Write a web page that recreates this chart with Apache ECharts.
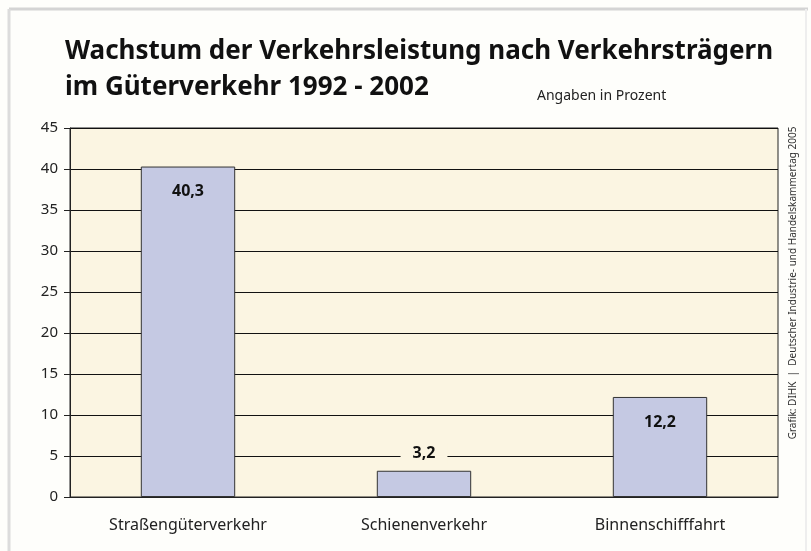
<!DOCTYPE html>
<html>
<head>
<meta charset="utf-8">
<script src="https://cdn.jsdelivr.net/npm/echarts@6/dist/echarts.min.js"></script>
<style>
  html, body { margin: 0; padding: 0; background: #fefefb; }
  #chart { width: 811px; height: 551px; }
</style>
</head>
<body>
<div id="chart"></div>
<script>
var categories = ['Straßengüterverkehr', 'Schienenverkehr', 'Binnenschifffahrt'];
var values = [40.3, 3.2, 12.2];
var yTicks = [0, 5, 10, 15, 20, 25, 30, 35, 40, 45];

var titleLine1 = 'Wachstum der Verkehrsleistung nach Verkehrsträgern';
var titleLine2 = 'im Güterverkehr 1992 - 2002';
var subtitle = 'Angaben in Prozent';
var source = 'Grafik: DIHK  |  Deutscher Industrie- und Handelskammertag 2005';

var plotBg = '#fbf5e2';
var barColor = '#c5c9e3';

var chart = echarts.init(document.getElementById('chart'));

// labels: big bars get the value inside, small one above with a masking box
var barData = values.map(function (v) {
  var small = v < 8;
  return {
    value: v,
    label: small
      ? { position: 'top', distance: 6, backgroundColor: plotBg, padding: [3, 12] }
      : { position: 'insideTop', distance: 17 }
  };
});

chart.setOption({
  backgroundColor: '#fefefb',
  animation: false,
  textStyle: { fontFamily: 'Noto Sans' },
  graphic: [
    // faint frame at top / left
    { type: 'line', shape: { x1: 9, y1: 9, x2: 808, y2: 9 }, style: { stroke: '#d4d4d4', lineWidth: 3 } },
    { type: 'line', shape: { x1: 9, y1: 9, x2: 9, y2: 551 }, style: { stroke: '#dcdcdc', lineWidth: 3 } },
    { type: 'line', shape: { x1: 806, y1: 9, x2: 806, y2: 551 }, style: { stroke: '#eeeeee', lineWidth: 2 } },
    {
      type: 'text', left: 65, top: 39,
      style: { text: titleLine1, font: 'bold 26px "Noto Sans"', fill: '#111' }
    },
    {
      type: 'text', left: 65, top: 75,
      style: { text: titleLine2, font: 'bold 26px "Noto Sans"', fill: '#111' }
    },
    {
      type: 'text', left: 537, top: 89,
      style: { text: subtitle, font: '14px "Noto Sans"', fill: '#222' }
    },
    {
      type: 'text', x: 793, y: 283, rotation: Math.PI / 2,
      style: { text: source, font: '10px "Noto Sans"', fill: '#333', align: 'center', verticalAlign: 'middle' }
    }
  ],
  grid: {
    left: 70, right: 33, top: 128, bottom: 54,
    show: true, backgroundColor: plotBg, borderColor: '#222', borderWidth: 1
  },
  xAxis: {
    type: 'category',
    data: categories,
    axisLine: { lineStyle: { color: '#222' } },
    axisTick: { show: false },
    axisLabel: { color: '#222', fontSize: 16, margin: 20 }
  },
  yAxis: {
    type: 'value',
    min: yTicks[0],
    max: yTicks[yTicks.length - 1],
    interval: 5,
    axisLine: { show: true, lineStyle: { color: '#222' } },
    axisTick: { show: true, length: 6, lineStyle: { color: '#222' } },
    axisLabel: { color: '#222', fontSize: 15, margin: 12 },
    splitLine: { lineStyle: { color: '#111', width: 1 } }
  },
  series: [{
    type: 'bar',
    data: barData,
    barWidth: '40%',
    itemStyle: { color: barColor, borderColor: '#333', borderWidth: 1 },
    label: {
      show: true,
      color: '#111',
      fontSize: 16,
      fontWeight: 'bold',
      formatter: function (p) { return String(p.value).replace('.', ','); }
    }
  }]
});
</script>
</body>
</html>
